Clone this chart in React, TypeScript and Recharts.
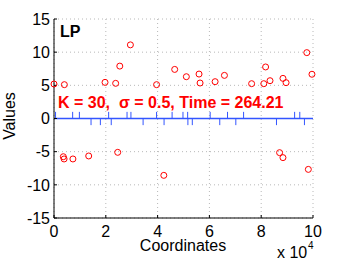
import { ComposedChart, Scatter, XAxis, YAxis, CartesianGrid, ReferenceLine } from 'recharts';

// estimated positions (x in units of 1e4)
const pointX = [0.0, 0.4, 1.97, 2.38, 2.54, 2.95, 3.96, 4.66, 5.11, 5.6, 5.64, 6.22, 6.58, 7.63, 8.1, 8.17, 8.34, 8.84, 8.96, 9.76, 9.96,
  0.36, 0.39, 0.73, 1.34, 2.46, 4.24, 8.71, 8.84, 9.82];
const pointY = [5.2, 5.1, 5.45, 5.3, 7.9, 11.1, 5.1, 7.4, 6.3, 6.7, 5.35, 5.55, 6.5, 5.25, 5.25, 7.77, 5.7, 6.05, 5.4, 9.93, 6.67,
  -5.76, -6.1, -6.1, -5.65, -5.1, -8.57, -5.15, -5.9, -7.67];

const spikeUp = [0.06, 0.72, 0.98, 2.11, 2.82, 2.97, 3.96, 4.56, 4.98, 5.16, 6.03, 6.7, 7.32, 9.29, 9.49];
const spikeDown = [1.43, 1.79, 2.21, 3.44, 4.25, 5.17, 5.34, 6.4, 7.02, 8.59, 9.67];

const xTicks = [0, 2, 4, 6, 8, 10];
const yTicks = [-15, -10, -5, 0, 5, 10, 15];

const points = pointX.map((x, i) => ({ x, y: pointY[i] }));

const font = "'Liberation Sans', Arial, Helvetica, sans-serif";
const blue = '#3355ff';

function Ring(props: any) {
  return <circle cx={props.cx} cy={props.cy} r={3} fill="none" stroke="#ff0000" strokeWidth={1} />;
}

export default function App() {
  const tickStyle = { fill: '#000', fontSize: 16, fontFamily: font };
  return (
    <div style={{ position: 'relative', width: 346, height: 260 }}>
      <style>{'body{margin:0}'}</style>
      <ComposedChart width={346} height={260} margin={{ top: 19, right: 33, bottom: 12, left: 0 }}>
        <CartesianGrid stroke="#b8b8b8" strokeDasharray="1 3" />
        <XAxis type="number" dataKey="x" domain={[0, 10]} ticks={xTicks} height={30}
          tickSize={-3} tickMargin={11} axisLine={{ stroke: '#000' }} tickLine={{ stroke: '#000' }} tick={tickStyle} />
        <XAxis xAxisId="top" orientation="top" type="number" dataKey="x" domain={[0, 10]} ticks={xTicks} height={0}
          tickSize={-3} axisLine={{ stroke: '#000' }} tickLine={{ stroke: '#000' }} tick={false} />
        <YAxis type="number" dataKey="y" domain={[-15, 15]} ticks={yTicks} width={54}
          tickSize={-3} tickMargin={7} axisLine={{ stroke: '#000' }} tickLine={{ stroke: '#000' }} tick={tickStyle} />
        <YAxis yAxisId="right" orientation="right" type="number" dataKey="y" domain={[-15, 15]} ticks={yTicks} width={0}
          tickSize={-3} axisLine={{ stroke: '#000' }} tickLine={{ stroke: '#000' }} tick={false} />
        <ReferenceLine y={0} stroke={blue} strokeWidth={1.5} />
        {spikeUp.map((x) => (
          <ReferenceLine key={'u' + x} segment={[{ x, y: 0 }, { x, y: 1 }]} stroke={blue} strokeWidth={1} />
        ))}
        {spikeDown.map((x) => (
          <ReferenceLine key={'d' + x} segment={[{ x, y: 0 }, { x, y: -1 }]} stroke={blue} strokeWidth={1} />
        ))}
        <Scatter data={points} shape={Ring} isAnimationActive={false} />
      </ComposedChart>
      <svg width={346} height={260} style={{ position: 'absolute', left: 0, top: 0, pointerEvents: 'none' }}>
        <text x={60} y={37} fontFamily={font} fontSize={16} fontWeight="bold" fill="#000">LP</text>
        <text x={58} y={108} fontFamily={font} fontSize={16} fontWeight="bold" fill="#ff0000" xmlSpace="preserve">
          K = 30,  σ = 0.5, Time = 264.21
        </text>
        <text x={15} y={116} transform="rotate(-90 15 116)" textAnchor="middle" fontFamily={font} fontSize={16} fill="#000">Values</text>
        <text x={183} y={251} textAnchor="middle" fontFamily={font} fontSize={16} fill="#000">Coordinates</text>
        <text x={277} y={258} fontFamily={font} fontSize={16} fill="#000">x 10</text>
        <text x={308} y={249} fontFamily={font} fontSize={10} fill="#000">4</text>
      </svg>
    </div>
  );
}
